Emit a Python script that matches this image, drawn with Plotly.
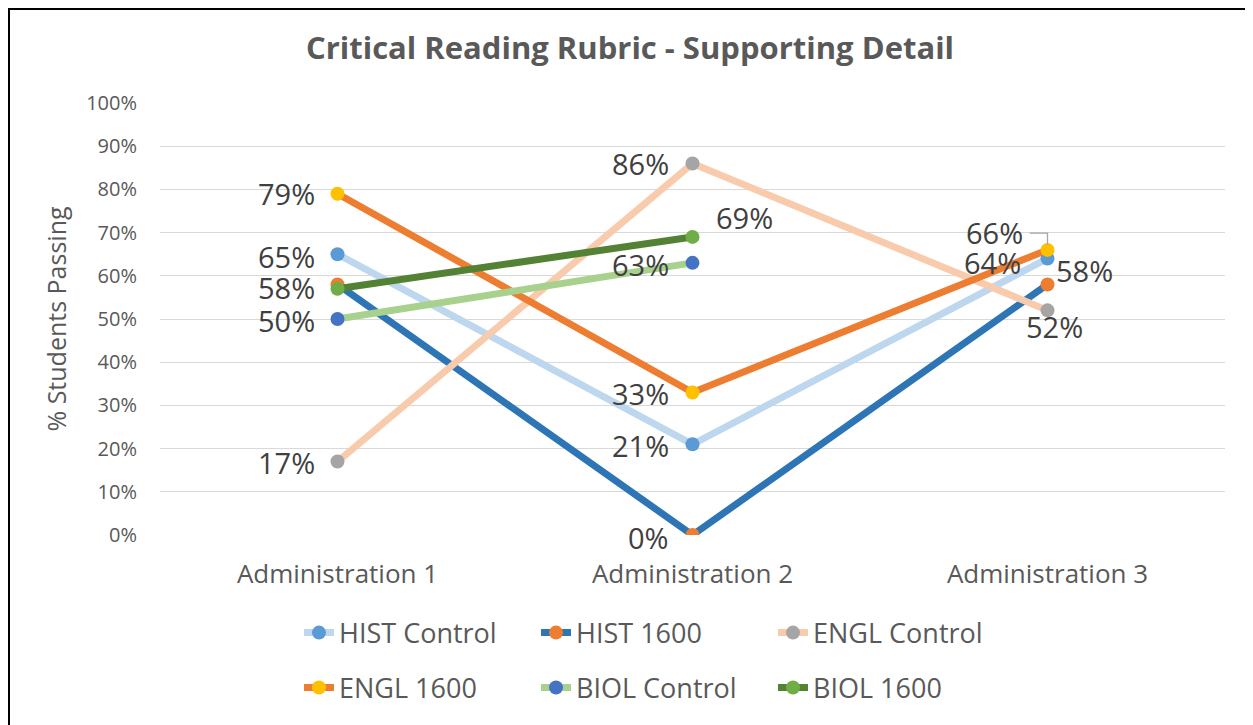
import plotly.graph_objects as go

categories = ["Administration 1", "Administration 2", "Administration 3"]
series_names = ["HIST Control", "HIST 1600", "ENGL Control", "ENGL 1600", "BIOL Control", "BIOL 1600"]
hist_control = [65, 21, 64]
hist_1600 = [58, 0, 58]
engl_control = [17, 86, 52]
engl_1600 = [79, 33, 66]
biol_control = [50, 63]
biol_1600 = [57, 69]
y_ticks = list(range(0, 101, 10))

line_colors = ["#BDD7EE", "#2E75B6", "#F8CBAD", "#ED7D31", "#A9D18E", "#548235"]
marker_colors = ["#5B9BD5", "#ED7D31", "#A5A5A5", "#FFC000", "#4472C4", "#70AD47"]
all_values = [hist_control, hist_1600, engl_control, engl_1600, biol_control, biol_1600]
legend_ids = ["legend", "legend", "legend", "legend2", "legend2", "legend2"]

FONT = "'Open Sans', sans-serif"
TXT = "#595959"
LBL = "#404040"

fig = go.Figure()
for name, vals, lc, mc, lg in zip(series_names, all_values, line_colors, marker_colors, legend_ids):
    fig.add_trace(go.Scatter(
        x=categories[:len(vals)], y=vals, name=name, mode="lines+markers",
        line=dict(color=lc, width=7),
        marker=dict(color=mc, size=14),
        legend=lg,
    ))

# data labels: (series index, point index, xanchor, xshift, yshift)
label_spec = [
    (3, 0, "right", -21, 0), (0, 0, "right", -21, -2), (1, 0, "right", -21, -3),
    (4, 0, "right", -21, -1), (2, 0, "right", -21, -1),
    (2, 1, "right", -22, 0), (5, 1, "left", 21, 19), (4, 1, "right", -22, -2),
    (3, 1, "right", -22, -1), (0, 1, "right", -22, -1), (1, 1, "right", -22, -2),
    (3, 2, "right", -23, 17), (0, 2, "right", -25, -4), (1, 2, "left", 6, 14),
    (2, 2, "center", 7, -16),
]
for si, pi, xa, xs, ys in label_spec:
    v = all_values[si][pi]
    fig.add_annotation(
        x=categories[pi], y=v, text=f"{v}%", showarrow=False,
        xanchor=xa, yanchor="middle", xshift=xs, yshift=ys,
        font=dict(family=FONT, size=29, color=LBL),
    )

# leader line for ENGL 1600 label at Administration 3
v = engl_1600[2]
fig.add_shape(
    type="path", xref="x", yref="y",
    path=f"M 1.95,{v + 3.9} L 2,{v + 3.9} L 2,{v + 1.2}",
    line=dict(color="#A6A6A6", width=1.3),
)

# chart border (clipped on the right and bottom, like the reference)
L, T, PW, PH = 152, 95, 1065, 432
fig.add_shape(
    type="rect", xref="paper", yref="paper",
    x0=(1 - L) / PW, x1=1.2, y0=-0.6, y1=1 + (T - 1) / PH,
    line=dict(color="black", width=2), layer="below",
)

fig.update_layout(
    width=1253, height=725,
    margin=dict(l=L, r=1253 - L - PW, t=T, b=725 - T - PH),
    paper_bgcolor="white", plot_bgcolor="white",
    font=dict(family=FONT, color=TXT),
    title=dict(
        text="<b>Critical Reading Rubric - Supporting Detail</b>",
        x=622 / 1253, xref="container", y=1 - 40 / 725, yref="container",
        xanchor="center", yanchor="middle",
        font=dict(family=FONT, size=31, color=TXT),
    ),
    showlegend=True,
    legend=dict(
        orientation="h", x=(291 - L) / PW, xanchor="left", y=-0.227, yanchor="middle",
        font=dict(family=FONT, size=27, color=TXT), entrywidth=192,
        bgcolor="rgba(0,0,0,0)", itemclick=False, itemdoubleclick=False,
    ),
    legend2=dict(
        orientation="h", x=(291 - L) / PW, xanchor="left", y=-0.354, yanchor="middle",
        font=dict(family=FONT, size=27, color=TXT), entrywidth=192,
        bgcolor="rgba(0,0,0,0)", itemclick=False, itemdoubleclick=False,
    ),
    xaxis=dict(
        type="category", range=[-0.5, 2.5], showgrid=False,
        showline=False, zeroline=False, ticks="",
        tickfont=dict(family=FONT, size=26, color=TXT), ticklabelstandoff=21,
    ),
    yaxis=dict(
        range=[0, 100], tickvals=y_ticks, ticktext=[f"{t}%" for t in y_ticks],
        showgrid=True, gridcolor="#D9D9D9", gridwidth=1.3,
        zeroline=False, showline=False, ticks="",
        tickfont=dict(family=FONT, size=20, color=TXT), ticklabelstandoff=22,
        title=dict(text="% Students Passing", font=dict(family=FONT, size=25, color=TXT), standoff=12),
    ),
)

fig.write_html("out.html")
